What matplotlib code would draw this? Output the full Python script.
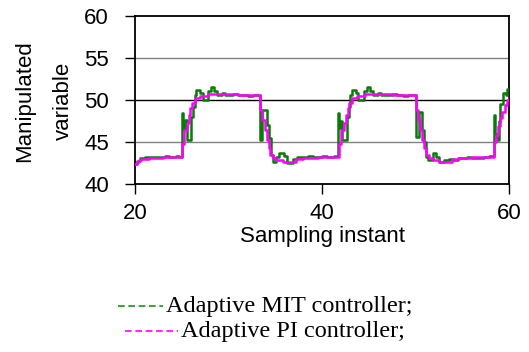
import matplotlib
matplotlib.use("Agg")
import matplotlib.pyplot as plt
from matplotlib.lines import Line2D

# ------------------------------
# data (breakpoints of the sampled signals, step-wise)
# ------------------------------
mit_t = [20.0, 20.2, 20.5, 21.0, 22.0, 23.2, 23.6, 24.3, 24.7,
         25.0, 25.15, 25.3, 25.5, 26.0, 26.2, 26.35, 26.5, 26.95, 27.2, 27.8,
         28.1, 28.45, 28.75, 29.3, 29.6, 30.5, 31.0, 32.0, 32.6,
         33.33, 33.6, 34.05, 34.25, 34.5, 34.7, 35.1, 35.4, 35.9, 36.2, 36.9,
         37.3, 38.5, 39.0, 40.0, 40.5, 41.2,
         41.67, 41.82, 41.95, 42.15, 42.65, 42.85, 43.0, 43.15, 43.6, 43.85,
         44.45, 44.75, 45.1, 45.4, 46.0, 46.3, 47.5, 48.0, 48.6, 49.2,
         50.0, 50.3, 50.7, 50.9, 51.1, 51.3, 51.8, 52.2, 52.5, 53.0, 53.5,
         54.0, 54.5, 55.5, 56.0, 57.3, 57.8,
         58.33, 58.5, 58.65, 58.85, 59.05, 59.3, 59.6, 59.8, 60.0]
mit_y = [42.4, 42.75, 43.05, 43.15, 43.2, 43.35, 43.2, 43.3, 43.25,
         48.4, 46.5, 47.6, 45.2, 48.0, 49.2, 50.6, 51.2, 50.8, 50.0, 51.0,
         51.5, 51.0, 50.6, 50.8, 50.6, 50.7, 50.6, 50.4, 50.55,
         45.2, 48.8, 47.0, 45.5, 43.5, 42.6, 43.2, 43.7, 43.3, 42.5, 43.0,
         43.2, 43.3, 43.2, 43.35, 43.2, 43.3,
         48.4, 46.6, 47.5, 45.2, 48.0, 49.2, 50.6, 51.2, 50.8, 50.0,
         51.0, 51.5, 51.0, 50.6, 50.8, 50.6, 50.7, 50.6, 50.4, 50.55,
         45.6, 48.6, 46.4, 45.0, 43.25, 42.8, 43.65, 43.25, 42.65, 42.8, 43.0,
         42.9, 43.1, 43.2, 43.1, 43.25, 43.3,
         48.2, 46.0, 45.2, 47.5, 49.5, 50.8, 50.6, 51.3, 51.3]

pi_t = [20.0, 20.15, 20.35, 20.6, 21.5, 23.0, 24.0,
        25.0, 25.25, 25.5, 25.7, 25.9, 26.05, 26.4, 26.9, 27.8, 29.0, 31.0, 32.5,
        33.33, 33.6, 33.85, 34.05, 34.25, 34.4, 34.75, 35.1, 35.8, 37.2, 37.9,
        39.5, 40.5,
        41.8, 42.05, 42.3, 42.5, 42.7, 42.85, 43.2, 43.7, 44.6, 46.0, 47.5, 49.0,
        50.0, 50.25, 50.5, 50.7, 50.9, 51.05, 51.4, 51.8, 52.5, 53.9, 54.6,
        56.0, 57.0,
        58.33, 58.6, 58.8, 59.0, 59.25, 59.5, 59.75, 60.0]
pi_y = [42.4, 42.65, 42.85, 42.98, 43.05, 43.15, 43.25,
        44.8, 46.4, 47.2, 48.2, 49.0, 49.6, 50.2, 50.5, 50.7, 50.65, 50.6, 50.55,
        48.8, 47.6, 46.4, 45.2, 44.25, 43.45, 43.06, 42.86, 42.65, 42.94, 43.1,
        43.15, 43.2,
        44.8, 46.4, 47.2, 48.2, 49.0, 49.6, 50.2, 50.5, 50.7, 50.65, 50.6, 50.55,
        48.8, 47.6, 46.4, 45.2, 44.25, 43.45, 43.06, 42.86, 42.65, 42.94, 43.1,
        43.15, 43.2,
        45.0, 45.8, 46.9, 47.8, 48.6, 49.4, 50.0, 50.2]

y_ticks = [40, 45, 50, 55, 60]
x_ticks = [20, 40, 60]

# ------------------------------
# figure
# ------------------------------
W, H = 529, 352
fig = plt.figure(figsize=(W / 100, H / 100), dpi=100)
ax = fig.add_axes([135.3 / W, 1 - 184 / H, (509.3 - 135.3) / W, (184 - 15.7) / H])

ax.plot(mit_t, mit_y, drawstyle="steps-post", color="#0a7a0a", lw=1.8, zorder=3)
ax.plot(pi_t, pi_y, drawstyle="steps-post", color="#ff00ff", lw=1.8, zorder=4)

ax.set_xlim(20, 60)
ax.set_ylim(40, 60)
ax.set_xticks(x_ticks)
ax.set_yticks(y_ticks)

sans = "Liberation Sans"
ax.set_xticklabels([str(v) for v in x_ticks], fontfamily=sans, fontsize=16)
ax.set_yticklabels([str(v) for v in y_ticks], fontfamily=sans, fontsize=16)
ax.tick_params(axis="y", direction="out", length=7, width=1, pad=12)
ax.tick_params(axis="x", direction="out", length=7, width=1, pad=7)

# horizontal grid: 45/55 grey, 50 black
for v, c in [(45, "#808080"), (50, "black"), (55, "#808080")]:
    ax.axhline(v, color=c, lw=1.0, zorder=1)

for s in ax.spines.values():
    s.set_color("black")
    s.set_linewidth(1.3)

ax.set_xlabel("Sampling instant", fontfamily=sans, fontsize=16, labelpad=1)

# two-line y label
fig.text(25 / W, 1 - 101 / H, "Manipulated", rotation=90, ha="center", va="center",
         fontfamily=sans, fontsize=16)
fig.text(63 / W, 1 - 101 / H, "variable", rotation=90, ha="center", va="center",
         fontfamily=sans, fontsize=16)

# legend below the chart
serif = "Liberation Serif"
fig.add_artist(Line2D([118 / W, 163 / W], [1 - 306 / H, 1 - 306 / H],
                      color="#0a9a0a", lw=1.2, dashes=(4, 2.2)))
fig.text(166 / W, 1 - 312 / H, "Adaptive MIT controller;", fontfamily=serif,
         fontsize=17.5, va="baseline")
fig.add_artist(Line2D([125 / W, 178 / W], [1 - 331 / H, 1 - 331 / H],
                      color="#ff00ff", lw=1.2, dashes=(4, 2.2)))
fig.text(181 / W, 1 - 337 / H, "Adaptive PI controller;", fontfamily=serif,
         fontsize=17.5, va="baseline")

fig.savefig("out.png", dpi=100)
